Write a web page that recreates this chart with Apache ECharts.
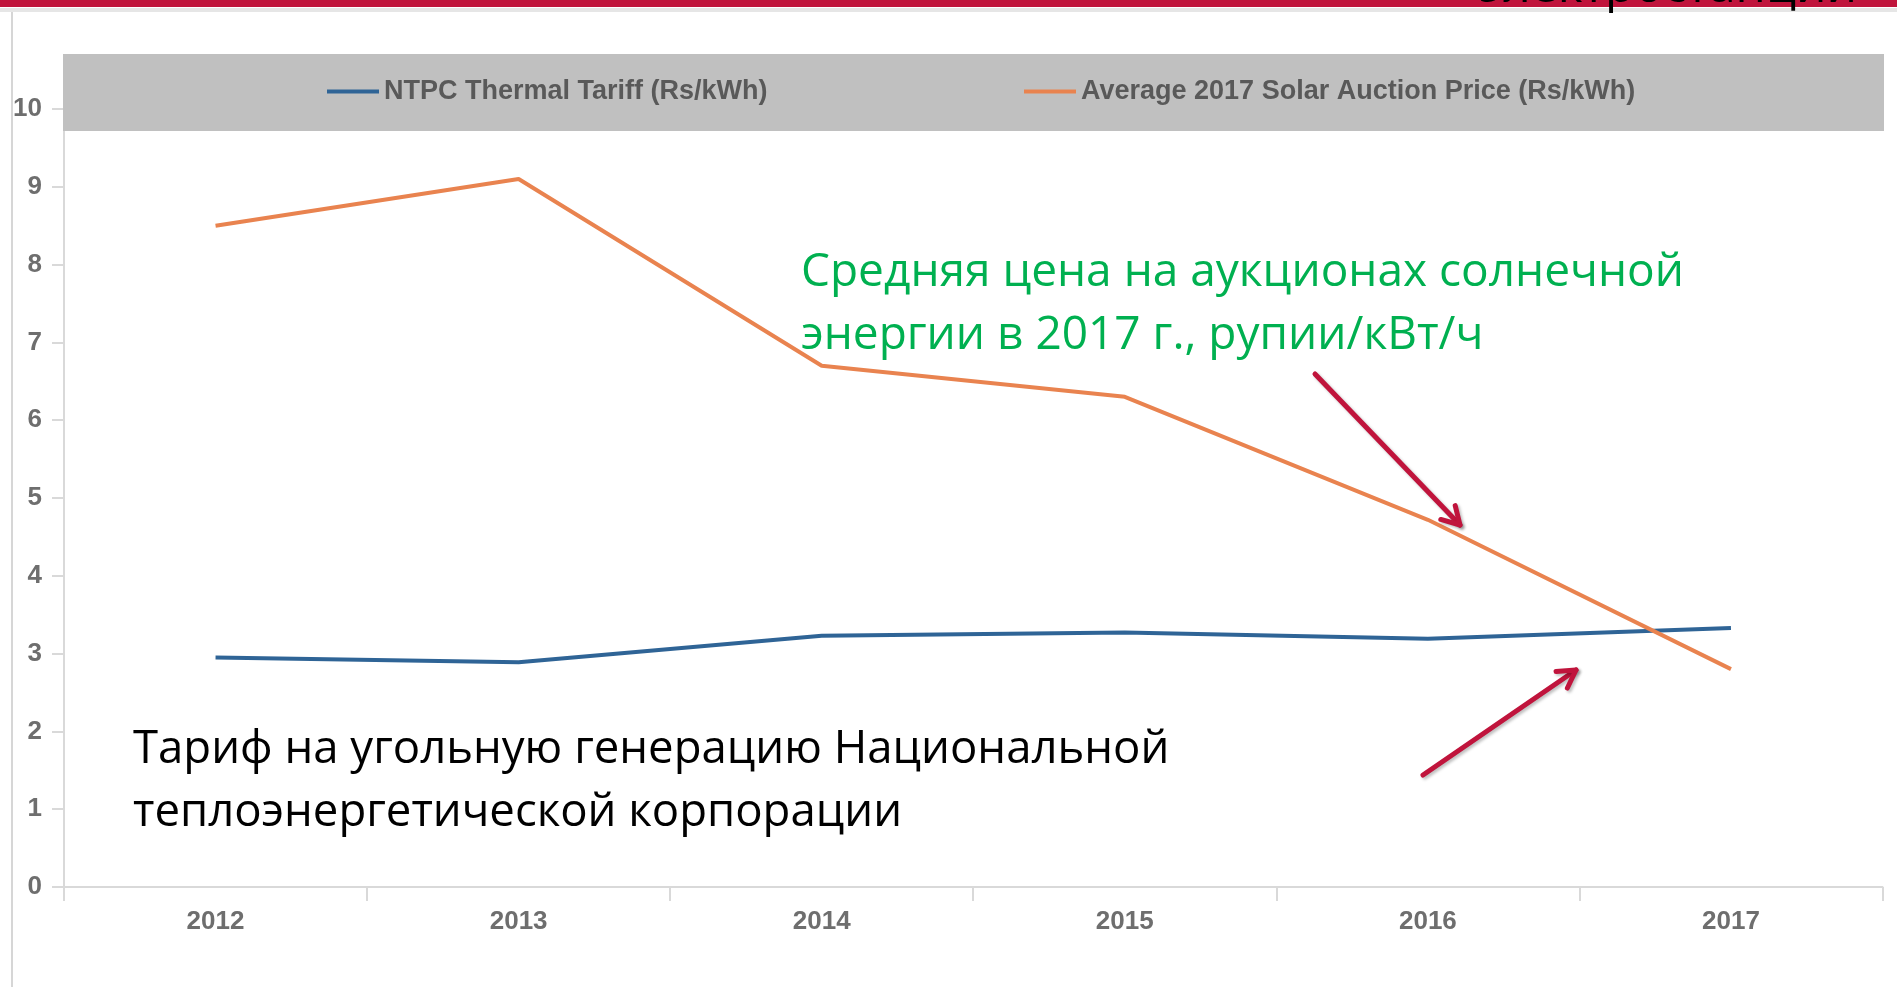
<!DOCTYPE html>
<html><head><meta charset="utf-8">
<script src="https://cdn.jsdelivr.net/npm/echarts@6/dist/echarts.min.js"></script>
<style>html,body{margin:0;padding:0;background:#fff;overflow:hidden}#c{width:1897px;height:987px;}</style>
</head><body><div id="c"></div>
<script>
// ---- data ----
const years = ['2012', '2013', '2014', '2015', '2016', '2017'];
const thermalTariff = [2.95, 2.89, 3.23, 3.27, 3.19, 3.33];
const solarPrice = [8.5, 9.1, 6.7, 6.3, 4.72, 2.8];
const seriesNames = ['NTPC Thermal Tariff (Rs/kWh)', 'Average 2017 Solar Auction Price (Rs/kWh)'];
const yMin = 0, yMax = 10, yStep = 1;
const greenNote = ['Средняя цена на аукционах солнечной', 'энергии в 2017 г., рупии/кВт/ч'];
const blackNote = ['Тариф на угольную генерацию Национальной', 'теплоэнергетической корпорации'];
const topCut = 'электростанции';

const arrowColor = '#c0143c';
function arrow(x1, y1, x2, y2) {
  const dx = x2 - x1, dy = y2 - y1, L = Math.hypot(dx, dy);
  const ux = dx / L, uy = dy / L, a = 20, c = Math.cos(Math.PI / 6), s = Math.sin(Math.PI / 6);
  const r1 = [ux * c - uy * s, ux * s + uy * c], r2 = [ux * c + uy * s, -ux * s + uy * c];
  const st = { stroke: arrowColor, lineWidth: 5, lineCap: 'round', lineJoin: 'round', fill: null,
    shadowBlur: 3, shadowOffsetX: 2, shadowOffsetY: 2, shadowColor: 'rgba(0,0,0,0.25)' };
  return [
    { type: 'polyline', z: 20, shape: { points: [[x1, y1], [x2, y2]] }, style: st },
    { type: 'polyline', z: 20, shape: { points: [[x2 - a * r1[0], y2 - a * r1[1]], [x2, y2], [x2 - a * r2[0], y2 - a * r2[1]]] }, style: st }
  ];
}
const textFont = '"Open Sans", "Noto Sans", sans-serif';
function txt(t, x, y, color, size, align) {
  return { type: 'text', z: 20, x: x, y: y, style: { text: t, fill: color, fontSize: size, fontFamily: textFont,
    align: align || 'left', verticalAlign: 'middle' } };
}

const chart = echarts.init(document.getElementById('c'), null, { renderer: 'canvas' });
const legendText = { color: '#595959', fontWeight: 'bold', fontSize: 27, fontFamily: '"Liberation Sans", Arial, sans-serif' };
chart.setOption({
  backgroundColor: '#ffffff',
  animation: false,
  grid: { left: 64, right: 14.5, top: 109, bottom: 100, containLabel: false },
  legend: [
    { data: [seriesNames[0]], left: 327, top: 78, padding: 0, icon: 'rect', itemWidth: 52, itemHeight: 4, textStyle: legendText, z: 10 },
    { data: [seriesNames[1]], left: 1024, top: 78, padding: 0, icon: 'rect', itemWidth: 52, itemHeight: 4, textStyle: legendText, z: 10 }
  ],
  xAxis: {
    type: 'category', data: years, boundaryGap: true,
    axisLine: { lineStyle: { color: '#d9d9d9', width: 2 } },
    axisTick: { show: true, length: 14, lineStyle: { color: '#d9d9d9', width: 2 } },
    axisLabel: { color: '#6e6e6e', fontWeight: 'bold', fontSize: 26, fontFamily: '"Liberation Sans", Arial, sans-serif', margin: 22 },
    splitLine: { show: false }
  },
  yAxis: {
    type: 'value', min: yMin, max: yMax, interval: yStep,
    axisLine: { show: true, lineStyle: { color: '#d9d9d9', width: 2 } },
    axisTick: { show: true, length: 12, lineStyle: { color: '#d9d9d9', width: 2 } },
    axisLabel: { color: '#6e6e6e', fontWeight: 'bold', fontSize: 26, fontFamily: '"Liberation Sans", Arial, sans-serif', margin: 22 },
    splitLine: { show: false }
  },
  series: [
    { name: seriesNames[0], type: 'line', data: thermalTariff, symbol: 'none', z: 2,
      lineStyle: { color: '#2f6496', width: 4 }, itemStyle: { color: '#2f6496' } },
    { name: seriesNames[1], type: 'line', data: solarPrice, symbol: 'none', z: 3,
      lineStyle: { color: '#e9834f', width: 4 }, itemStyle: { color: '#e9834f' } }
  ],
  graphic: { elements: [
    { type: 'rect', z: 5, shape: { x: 0, y: 0, width: 1897, height: 7 }, style: { fill: arrowColor } },
    { type: 'rect', z: 5, shape: { x: 0, y: 8, width: 1897, height: 4 }, style: { fill: '#e6e6e6' } },
    { type: 'line', z: 5, shape: { x1: 12, y1: 12, x2: 12, y2: 987 }, style: { stroke: '#d6d6d6', lineWidth: 2 } },
    { type: 'rect', z: 3, shape: { x: 63, y: 54, width: 1821, height: 77 }, style: { fill: '#c0c0c0' } },
    txt(topCut, 1857, -12, '#000000', 48, 'right'),
    txt(greenNote[0], 801, 273, '#00b050', 46),
    txt(greenNote[1], 801, 336, '#00b050', 46),
    txt(blackNote[0], 133, 750, '#000000', 45.5),
    txt(blackNote[1], 133, 813, '#000000', 45.5),
    ...arrow(1315, 374, 1460, 525),
    ...arrow(1423, 775, 1576, 670)
  ] }
});
</script></body></html>
